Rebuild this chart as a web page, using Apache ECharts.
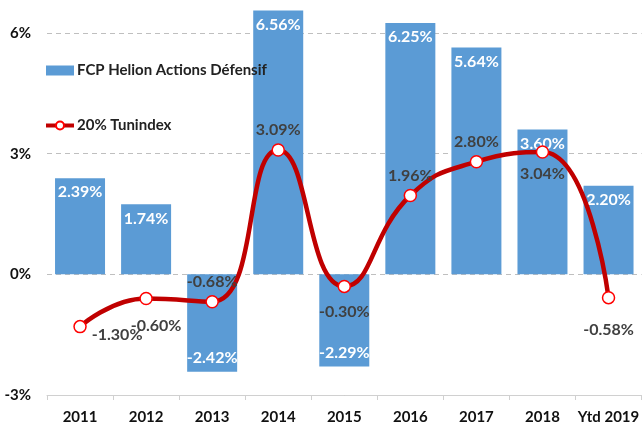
<!DOCTYPE html>
<html>
<head>
<meta charset="utf-8">
<script src="https://cdn.jsdelivr.net/npm/echarts@6/dist/echarts.min.js"></script>
<style>
  html, body { margin: 0; padding: 0; background: #fff; }
  #chart { width: 642px; height: 425px; }
</style>
</head>
<body>
<div id="chart"></div>
<script>
// chart values
const categories = ['2011', '2012', '2013', '2014', '2015', '2016', '2017', '2018', 'Ytd 2019'];
const fundValues = [2.39, 1.74, -2.42, 6.56, -2.29, 6.25, 5.64, 3.60, 2.20];
const indexValues = [-1.30, -0.60, -0.68, 3.09, -0.30, 1.96, 2.80, 3.04, -0.58];
const yTicks = [-3, 0, 3, 6];

// where each line label sits relative to its point
const lineLabelPos = ['right', 'bottom', 'top', 'top', 'bottom', 'top', 'top', 'bottom', 'bottom'];
const lineLabelOffset = [[0, 8], [10, 8], [0, 0], [0, 0], [0, 6], [0, 0], [0, 0], [0, 2], [0, 12]];

const font = 'Lato, "Open Sans", sans-serif';
const pct = v => v.toFixed(2) + '%';

const chart = echarts.init(document.getElementById('chart'), null, { renderer: 'canvas' });

chart.setOption({
  animation: false,
  textStyle: { fontFamily: font },
  grid: { left: 47, right: -4, top: 33, bottom: 27, containLabel: false },
  legend: {
    orient: 'vertical',
    left: 44,
    top: 63,
    padding: 0,
    itemGap: 40,
    itemWidth: 28,
    itemHeight: 10,
    textStyle: { fontFamily: font, fontWeight: 'bold', fontSize: 15, color: '#222', padding: [0, 0, 0, -2] },
    data: [
      { name: 'FCP Helion Actions Défensif', icon: 'rect' },
      { name: '20% Tunindex', lineStyle: { width: 4 } }
    ]
  },
  xAxis: [
    {
      type: 'category',
      data: categories,
      position: 'bottom',
      axisLine: { show: false },
      axisTick: { show: false },
      axisLabel: { interval: 0, fontFamily: font, fontWeight: 'bold', fontSize: 15, color: '#111', margin: 15 }
    },
    {
      type: 'category',
      data: categories,
      position: 'bottom',
      axisLine: { show: true, onZero: true, lineStyle: { color: '#D0D0D0', width: 1 } },
      axisTick: { show: true, length: 5, lineStyle: { color: '#D0D0D0' } },
      axisLabel: { show: false }
    }
  ],
  yAxis: {
    type: 'value',
    min: yTicks[0],
    max: yTicks[yTicks.length - 1],
    interval: 3,
    axisLine: { show: false },
    axisTick: { show: false },
    axisLabel: {
      fontFamily: font, fontWeight: 'bold', fontSize: 15, color: '#111', margin: 16,
      formatter: v => v + '%'
    },
    splitLine: { lineStyle: { color: '#BFBFBF', type: [5, 4], width: 1 } }
  },
  series: [
    {
      name: 'FCP Helion Actions Défensif',
      type: 'bar',
      xAxisIndex: 0,
      barWidth: 50,
      clip: false,
      itemStyle: { color: '#5B9BD5' },
      label: {
        show: true,
        color: '#fff',
        fontFamily: font,
        fontWeight: 'bold',
        fontSize: 16,
        formatter: p => pct(p.value)
      },
      data: fundValues.map(v => ({
        value: v,
        label: { position: v >= 0 ? 'insideTop' : 'insideBottom', distance: 6 }
      })),
      z: 1
    },
    {
      name: '20% Tunindex',
      type: 'line',
      xAxisIndex: 0,
      smooth: 0.5,
      symbol: 'circle',
      symbolSize: 12,
      lineStyle: { color: '#C00000', width: 4.5 },
      itemStyle: { color: '#fff', borderColor: '#FF0000', borderWidth: 1.5 },
      label: {
        show: true,
        color: '#404040',
        fontFamily: font,
        fontWeight: 'bold',
        fontSize: 16,
        formatter: p => pct(p.value)
      },
      data: indexValues.map((v, i) => ({
        value: v,
        label: { position: lineLabelPos[i], offset: lineLabelOffset[i] }
      })),
      z: 3
    }
  ]
});
</script>
</body>
</html>
